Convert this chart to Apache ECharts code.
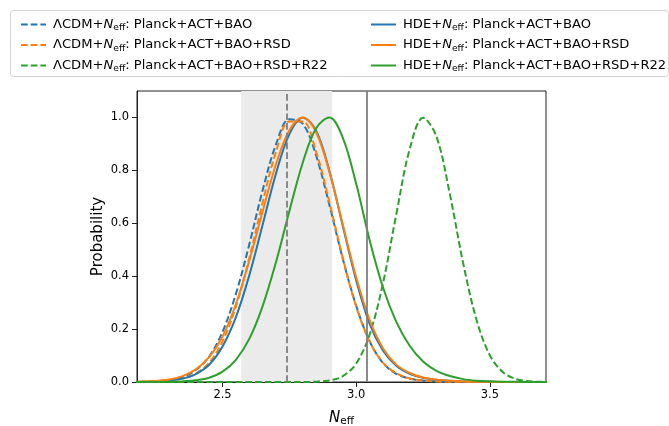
<!DOCTYPE html>
<html><head><meta charset="utf-8">
<script src="https://cdn.jsdelivr.net/npm/echarts@6/dist/echarts.min.js"></script>
<style>html,body{margin:0;padding:0;background:#fff}#c{width:669px;height:426px}</style>
</head><body><div id="c"></div>
<script>
// x grid of N_eff values (sampled positions)
const xs = [2.15,2.20,2.25,2.30,2.35,2.40,2.45,2.50,2.55,2.60,2.65,2.70,2.75,2.80,2.85,2.90,2.95,3.00,3.05,3.10,3.15,3.20,3.25,3.30,3.35,3.40,3.45,3.50,3.55,3.60,3.65,3.70,3.75];
// ΛCDM+Neff: Planck+ACT+BAO (blue dashed)
const lcdmBAO = [0.0003,0.0008,0.0026,0.0077,0.0185,0.0455,0.0964,0.190,0.333,0.520,0.725,0.898,0.993,0.977,0.856,0.668,0.465,0.288,0.155,0.072,0.031,0.013,0.0055,0.0022,0.0008,0.0003,0.0001,0,0,0,0,0,0];
// ΛCDM+Neff: Planck+ACT+BAO+RSD (orange dashed)
const lcdmRSD = [0.0002,0.0005,0.0015,0.0047,0.0128,0.032,0.0728,0.153,0.285,0.468,0.679,0.870,0.985,0.985,0.870,0.679,0.468,0.285,0.153,0.073,0.033,0.0135,0.0053,0.002,0.0007,0.0002,0.0001,0,0,0,0,0,0];
// ΛCDM+Neff: Planck+ACT+BAO+RSD+R22 (green dashed)
const lcdmR22 = [0,0,0,0,0,0,0,0,0,0,0,0,0,0.0002,0.0012,0.0059,0.022,0.070,0.179,0.372,0.634,0.880,0.999,0.928,0.712,0.450,0.235,0.101,0.036,0.0106,0.0026,0.0005,0.0001];
// HDE+Neff: Planck+ACT+BAO (blue solid)
const hdeBAO = [0.0002,0.0007,0.0018,0.005,0.0127,0.030,0.065,0.134,0.245,0.403,0.594,0.788,0.937,0.999,0.950,0.797,0.589,0.384,0.221,0.119,0.061,0.031,0.016,0.0084,0.0043,0.0022,0.001,0.0005,0.0002,0.0001,0,0,0];
// HDE+Neff: Planck+ACT+BAO+RSD (orange solid)
const hdeRSD = [0.0006,0.0015,0.0039,0.0096,0.022,0.0475,0.094,0.172,0.295,0.458,0.645,0.823,0.952,1.0,0.944,0.793,0.594,0.396,0.235,0.128,0.0657,0.034,0.0173,0.009,0.0047,0.0023,0.0011,0.0005,0.0002,0.0001,0,0,0];
// HDE+Neff: Planck+ACT+BAO+RSD+R22 (green solid)
const hdeR22 = [0,0.0001,0.0002,0.0008,0.0023,0.0065,0.0162,0.039,0.084,0.163,0.287,0.453,0.646,0.829,0.959,0.9995,0.923,0.749,0.537,0.358,0.227,0.137,0.0776,0.0422,0.0224,0.0109,0.0051,0.0024,0.0011,0.0005,0.0002,0.0001,0];

const seriesNames = [
  'ΛCDM+N_eff: Planck+ACT+BAO',
  'ΛCDM+N_eff: Planck+ACT+BAO+RSD',
  'ΛCDM+N_eff: Planck+ACT+BAO+RSD+R22',
  'HDE+N_eff: Planck+ACT+BAO',
  'HDE+N_eff: Planck+ACT+BAO+RSD',
  'HDE+N_eff: Planck+ACT+BAO+RSD+R22'
];
const xTicks = [2.5, 3.0, 3.5];
const yTicks = [0, 0.2, 0.4, 0.6, 0.8, 1.0];
const band = [2.57, 2.91];
const dashedRef = 2.74;
const solidRef = 3.044;

const FONT = 'DejaVu Sans';
const C_BLUE = '#1f77b4', C_ORANGE = '#ff7f0e', C_GREEN = '#2ca02c';
const DASH = [6.7, 3];

function pairs(v){ return xs.map((x,i)=>[x, v[i]]); }
function fmtName(name){
  const p = name.split('N_eff');
  return '{t|' + p[0] + '}{i|N}{s|eff}{t|' + p[1] + '}';
}
const LFS = 13.1;
const richLegend = {
  t: {fontFamily: FONT, fontSize: LFS, color: '#000', lineHeight: 16},
  i: {fontFamily: FONT, fontSize: LFS, color: '#000', fontStyle: 'italic', lineHeight: 16},
  s: {fontFamily: FONT, fontSize: 9.2, color: '#000', verticalAlign: 'bottom', lineHeight: 9}
};

function mk(name, data, color, dashed){
  return {
    name: name, type: 'line', data: pairs(data), smooth: 0.35,
    symbol: 'none', showSymbol: false, clip: true, z: 3,
    lineStyle: {color: color, width: 2, type: dashed ? DASH : 'solid'},
    itemStyle: {color: color}
  };
}

const chart = echarts.init(document.getElementById('c'), null, {renderer: 'canvas'});
const legendCommon = {
  orient: 'vertical', top: 13, itemWidth: 25, itemHeight: 14, itemGap: 6,
  selectedMode: false,
  itemStyle: {opacity: 0},
  formatter: fmtName,
  textStyle: {fontFamily: FONT, fontSize: LFS, color: '#000', padding: [0,0,0,2], rich: richLegend}
};
chart.setOption({
  animation: false,
  backgroundColor: '#fff',
  graphic: [{
    type: 'rect', left: 10, top: 10, z: 0,
    shape: {width: 658, height: 66, r: 3},
    style: {fill: '#fff', stroke: '#d3d3d3', lineWidth: 1}
  }],
  legend: [
    Object.assign({}, legendCommon, {left: 15, data: seriesNames.slice(0,3)}),
    Object.assign({}, legendCommon, {left: 365, data: seriesNames.slice(3,6)})
  ],
  grid: {left: 137, top: 91, width: 409, height: 291, outerBoundsMode: 'none', containLabel: false,
    show: true, borderColor: '#222', borderWidth: 1, backgroundColor: 'transparent'},
  xAxis: {
    type: 'value', min: 2.18, max: 3.71,
    splitLine: {show: false},
    axisLine: {show: true, onZero: false, lineStyle: {color: '#222', width: 1}},
    axisTick: {show: true, length: 5, customValues: xTicks, lineStyle: {color: '#222'}},
    axisLabel: {customValues: xTicks, formatter: v => v.toFixed(1), fontFamily: FONT, fontSize: 11.5, color: '#000', margin: 7},
    name: '{i|N}{s|eff}', nameLocation: 'middle', nameGap: 27, nameMoveOverlap: false,
    nameTextStyle: {rich: {
      i: {fontFamily: FONT, fontSize: 15, fontStyle: 'italic', color: '#000', lineHeight: 18},
      s: {fontFamily: FONT, fontSize: 10.5, color: '#000', verticalAlign: 'bottom', lineHeight: 10}
    }}
  },
  yAxis: {
    type: 'value', min: 0, max: 1.1,
    splitLine: {show: false},
    axisLine: {show: true, onZero: false, lineStyle: {color: '#222', width: 1}},
    axisTick: {show: true, length: 5, customValues: yTicks, lineStyle: {color: '#222'}},
    axisLabel: {customValues: yTicks, formatter: v => v.toFixed(1), fontFamily: FONT, fontSize: 11.5, color: '#000', margin: 8},
    name: 'Probability', nameLocation: 'middle', nameGap: 31, nameMoveOverlap: false,
    nameTextStyle: {fontFamily: FONT, fontSize: 15, color: '#000'}
  },
  series: [
    {
      name: 'ref', type: 'line', data: [], z: 1, silent: true,
      markArea: {silent: true, itemStyle: {color: '#ebebeb'}, data: [[{xAxis: band[0]}, {xAxis: band[1]}]]},
      markLine: {silent: true, symbol: 'none', label: {show: false}, animation: false,
        data: [
          {xAxis: dashedRef, lineStyle: {type: DASH, color: '#7f7f7f', width: 1.8}},
          {xAxis: solidRef, lineStyle: {type: 'solid', color: '#7f7f7f', width: 1.8}}
        ]}
    },
    mk(seriesNames[0], lcdmBAO, C_BLUE, true),
    mk(seriesNames[1], lcdmRSD, C_ORANGE, true),
    mk(seriesNames[2], lcdmR22, C_GREEN, true),
    mk(seriesNames[3], hdeBAO, C_BLUE, false),
    mk(seriesNames[4], hdeRSD, C_ORANGE, false),
    mk(seriesNames[5], hdeR22, C_GREEN, false)
  ]
});
</script>
</body></html>
